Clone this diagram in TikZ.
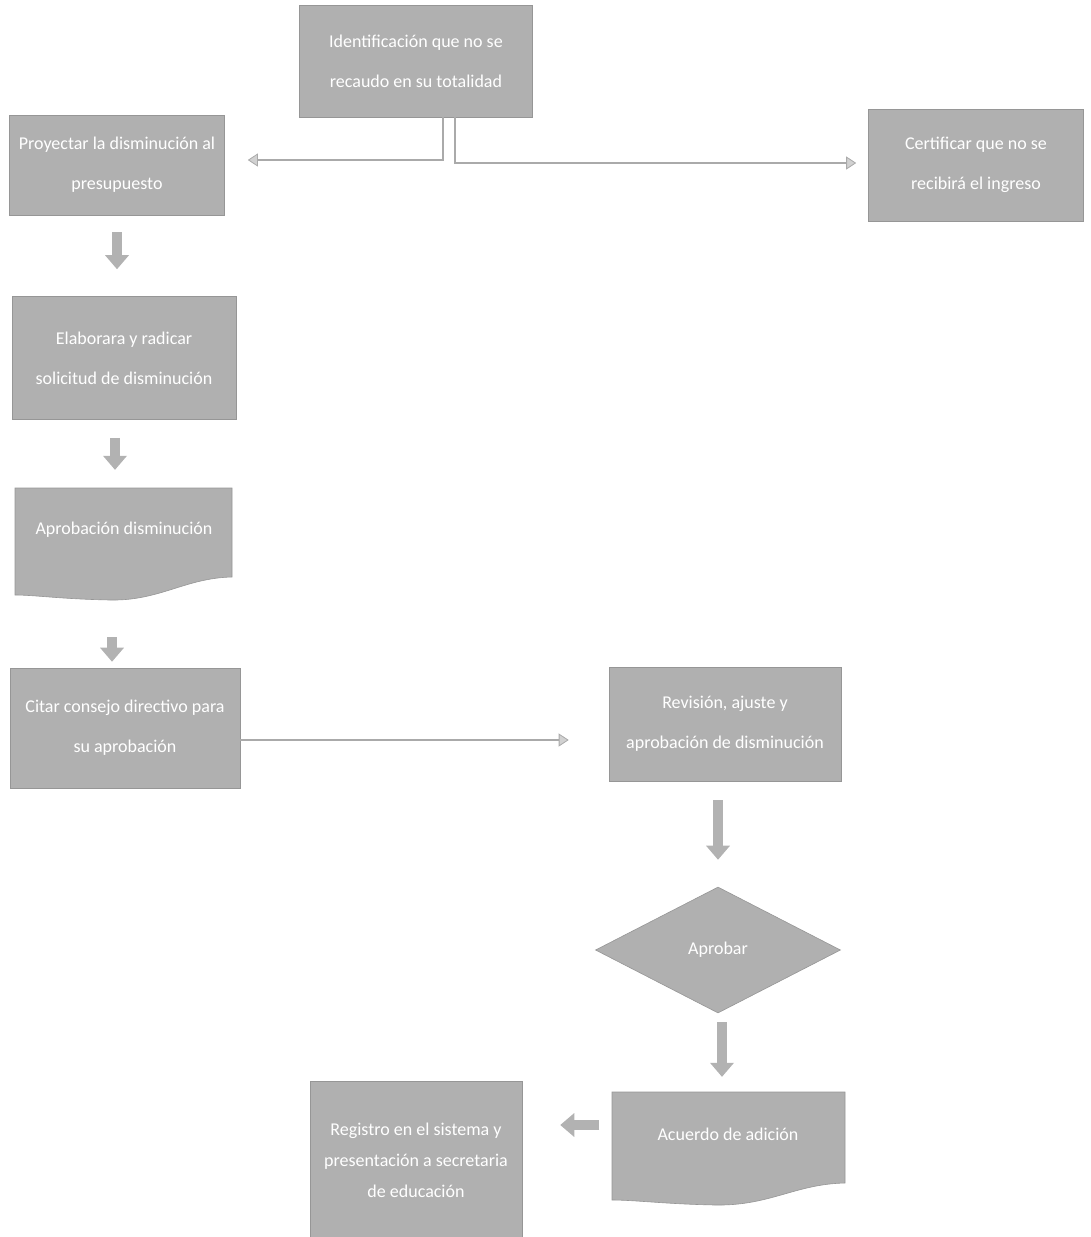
\documentclass[tikz,border=0pt]{standalone}
\usepackage{fontspec}
\setmainfont{Carlito}
\usetikzlibrary{arrows.meta,shapes.geometric,backgrounds}
\definecolor{boxgray}{RGB}{176,176,176}
\definecolor{edgegray}{RGB}{150,150,150}
\definecolor{linegray}{RGB}{170,170,170}
\definecolor{arrgray}{RGB}{178,178,178}
\begin{document}
\begin{tikzpicture}[x=1pt,y=-1pt,
  font=\fontsize{18}{40}\selectfont,
  procbox/.style={rectangle, fill=boxgray, draw=edgegray, line width=0.6pt, align=center, inner sep=0pt, text=white},
  docbox/.style={rectangle, align=center, inner sep=0pt, text=white},
  thinarrow/.style={draw=linegray, line width=1.3pt, -{Triangle[width=13pt,length=10pt,line width=0.8pt,fill=arrgray!60!white]}},
  fatarrow/.style={draw=arrgray, line width=10pt, -{Triangle[width=24pt,length=14pt,line width=0pt]}}]
\path[use as bounding box] (0,0) rectangle (1090,1237);

% boxes
\node[procbox, minimum width=233pt, minimum height=112pt] (top) at (416,61) {Identificación que no se\\recaudo en su totalidad};
\node[procbox, minimum width=215pt, minimum height=100pt] (proy) at (117,165) {Proyectar la disminución al\\presupuesto};
\node[procbox, minimum width=215pt, minimum height=112pt] (cert) at (976,165) {Certificar que no se\\recibirá el ingreso};
\node[procbox, minimum width=224pt, minimum height=123pt] (elab) at (124,358) {Elaborara y radicar\\solicitud de disminución};

% document shape: Aprobacion disminucion
\fill[boxgray, draw=edgegray, line width=0.6pt] (15,488) -- (232,488) -- (232,577)
  .. controls (185,578) and (160,601) .. (110,600)
  .. controls (60,599) and (35,595) .. (15,595) -- cycle;
\node[docbox, minimum width=217pt, minimum height=84pt] (aprd) at (124,530) {Aprobación disminución};

\node[procbox, minimum width=230pt, minimum height=120pt] (citar) at (125,728) {Citar consejo directivo para\\su aprobación};
\node[procbox, minimum width=232pt, minimum height=114pt] (rev) at (725,724) {Revisión, ajuste y\\aprobación de disminución};
\node[diamond, aspect=1.94, fill=boxgray, draw=edgegray, line width=0.6pt, minimum width=245pt, minimum height=126pt, inner sep=0pt, text=white] (apr) at (718,950) {Aprobar};

% document shape: Acuerdo de adicion
\fill[boxgray, draw=edgegray, line width=0.6pt] (612,1092) -- (845,1092) -- (845,1183)
  .. controls (795,1184) and (770,1206) .. (715,1205)
  .. controls (665,1204) and (635,1200) .. (612,1200) -- cycle;
\node[docbox, minimum width=233pt, minimum height=84pt] (acu) at (728,1134) {Acuerdo de adición};

\node[procbox, minimum width=212pt, minimum height=158pt, font=\fontsize{18}{31}\selectfont] (reg) at (416,1160) {Registro en el sistema y\\presentación a secretaria\\de educación};

% thin connectors
\draw[thinarrow] ([xshift=27pt]top.south) |- ([xshift=23pt,yshift=5pt]proy.east);
\draw[thinarrow] ([xshift=39pt]top.south) |- ([xshift=-12pt,yshift=2pt]cert.west);
\path ([yshift=-12pt]citar.east) coordinate (cs);
\draw[thinarrow, shorten >=40pt] (cs) -- (cs -| rev.west);

% block arrows
\draw[fatarrow, shorten <=17pt, shorten >=27pt] (proy.south) -- (proy.south |- elab.north);
\draw[fatarrow, shorten <=18pt, shorten >=18pt] ([xshift=-9pt]elab.south) -- ([xshift=-9pt]elab.south |- aprd.north);
\draw[fatarrow, shorten <=65pt, shorten >=6pt] ([xshift=-12pt]aprd.south) -- ([xshift=-12pt]aprd.south |- citar.north);
\draw[fatarrow, shorten <=19pt, shorten >=27pt] ([xshift=-7pt]rev.south) -- ([xshift=-7pt]rev.south |- apr.north);
\draw[fatarrow, shorten <=9pt, shorten >=15pt] ([xshift=4pt]apr.south) -- ([xshift=4pt]apr.south |- acu.north);
\path ([yshift=9pt]acu.west) coordinate (aw);
\draw[fatarrow, shorten <=12pt, shorten >=38pt] (aw) -- (aw -| reg.east);
\end{tikzpicture}
\end{document}
